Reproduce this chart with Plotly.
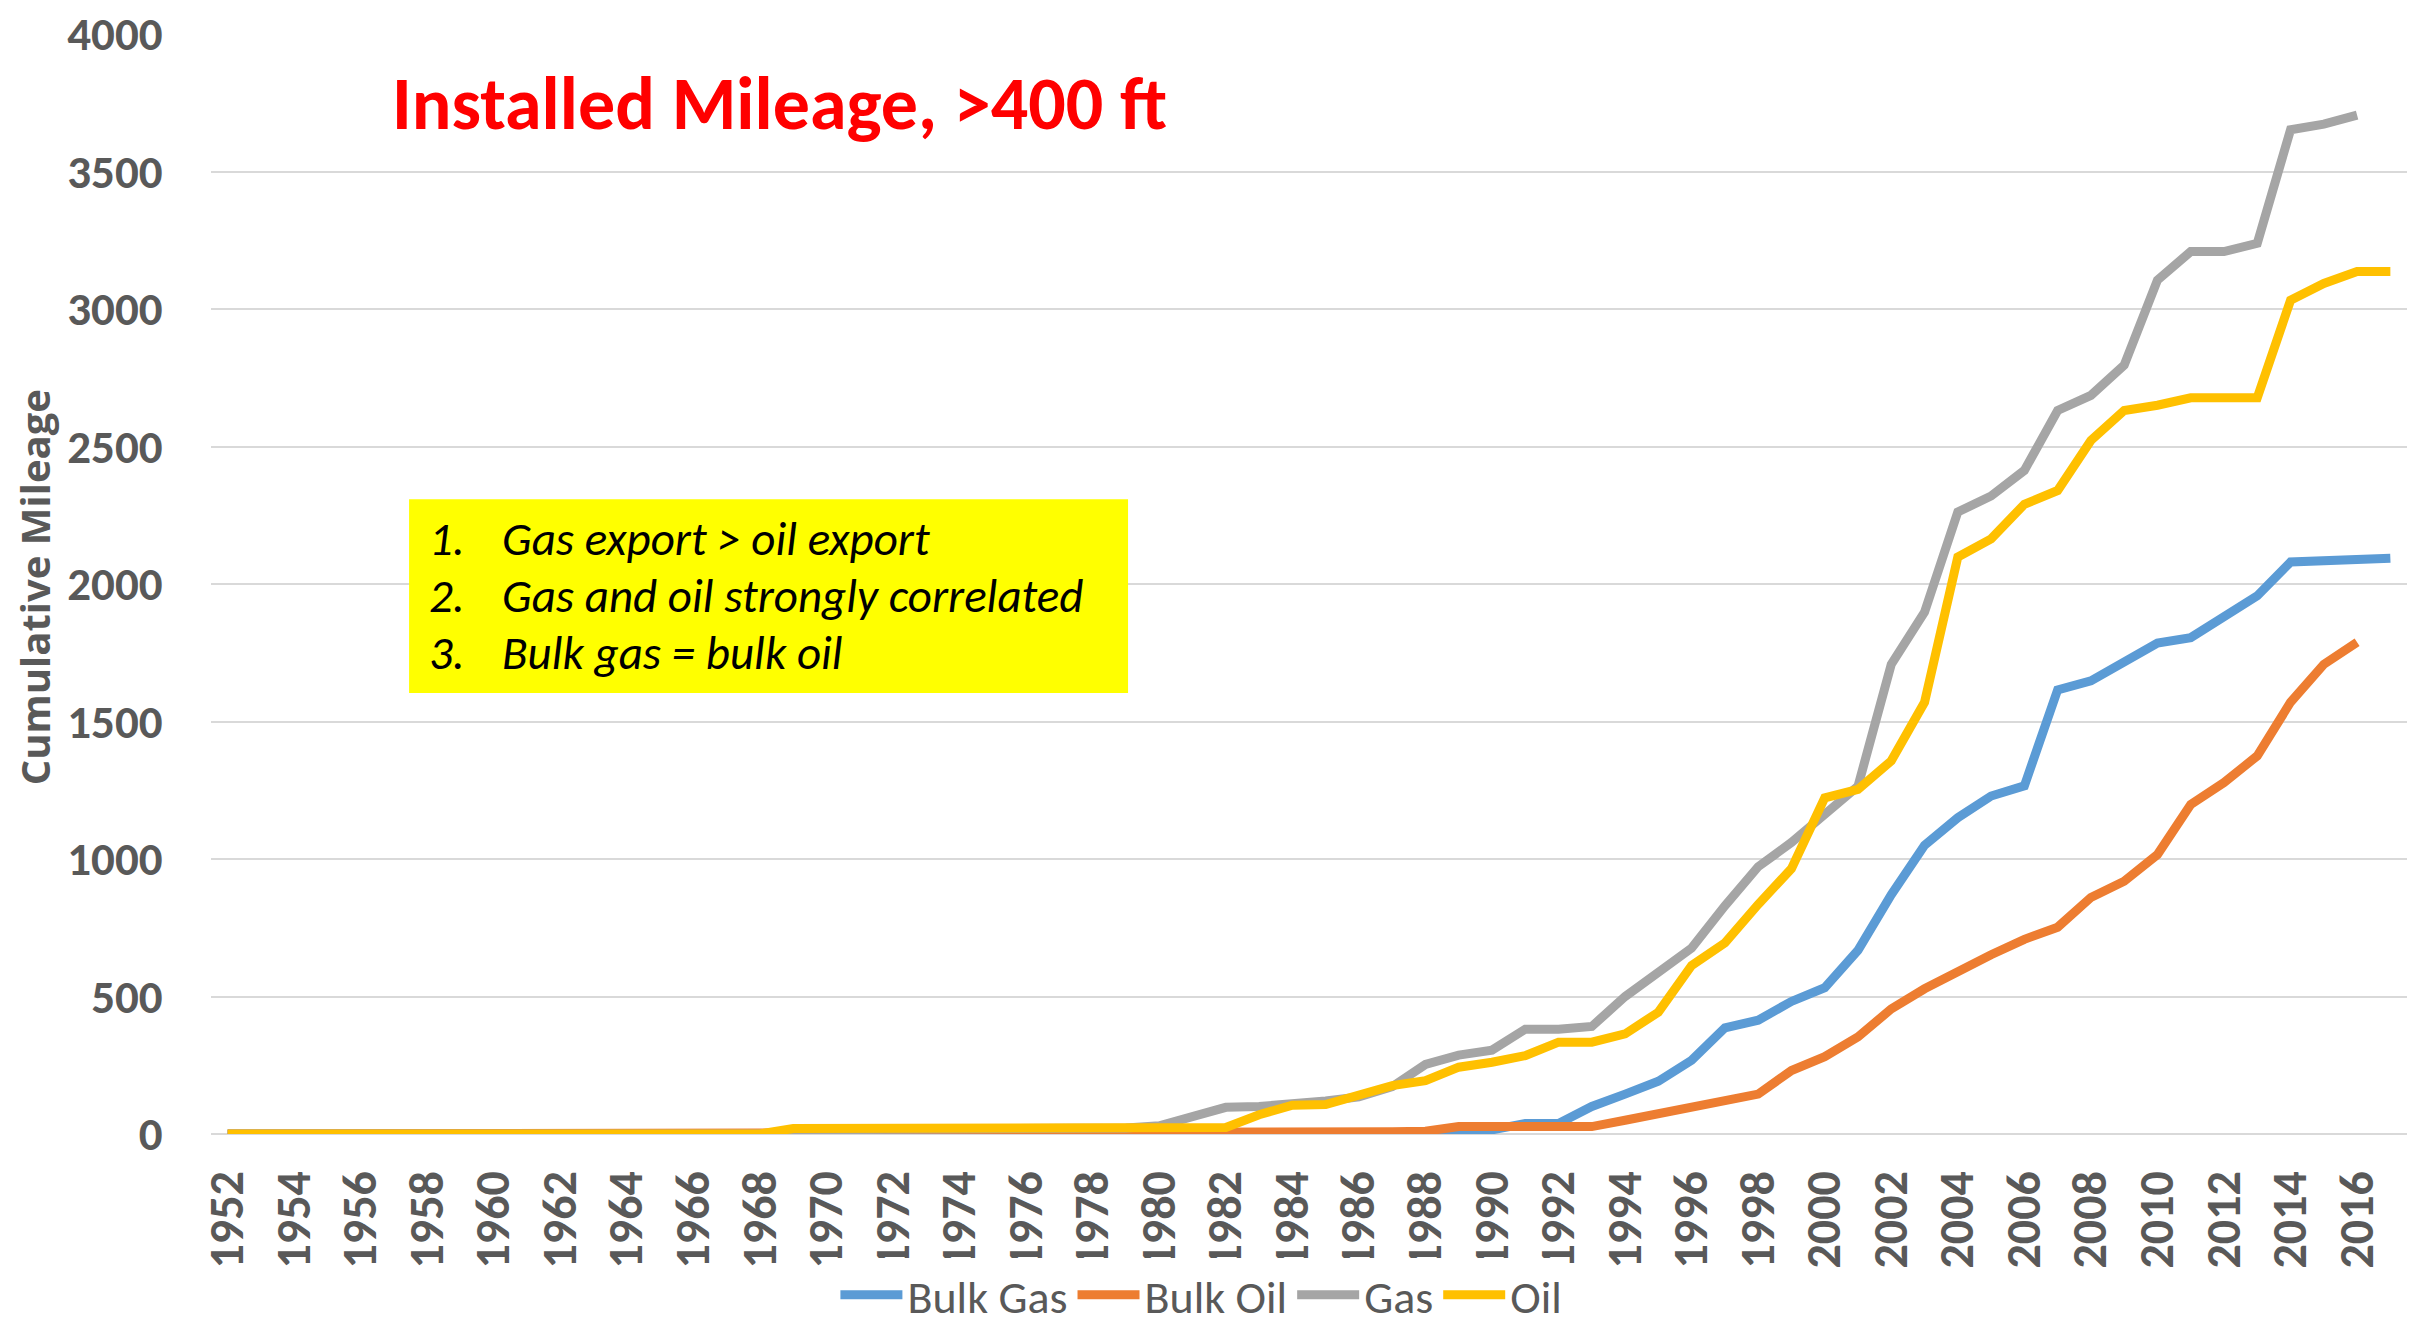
import plotly.graph_objects as go

years = list(range(1952, 2018))

bulk_gas = [
    0, 0, 0, 0, 0, 0, 0, 0,
    0, 0, 0, 0, 0, 0, 0, 0, 0, 0,
    0, 0, 0, 0, 0, 0, 0, 0, 0, 2,
    8, 8, 8, 8, 8, 8, 8, 8, 5, 5,
    15, 38, 38, 100, 145, 192, 268, 386, 414, 482,
    532, 668, 870, 1050, 1150, 1229, 1266, 1615, 1648, 1720,
    1785, 1805, 1884, 1957, 2080, 2085, 2094, 2094,
]

bulk_oil = [
    0, 0, 0, 0, 0, 0, 0, 0,
    0, 0, 0, 0, 0, 0, 0, 0, 0, 0,
    0, 0, 0, 0, 0, 0, 0, 2, 3, 5,
    8, 8, 8, 8, 8, 8, 8, 8, 10, 27,
    27, 27, 27, 27, 50, 72, 97, 116, 145, 231,
    281, 353, 455, 528, 592, 652, 708, 752, 860, 919,
    1016, 1198, 1278, 1375, 1570, 1708, 1788, None,
]

gas = [
    0, 0, 0, 0, 0, 0, 0, 0,
    0, 0, 0, 0, 0, 0, 0, 0, 0, 15,
    15, 15, 15, 15, 15, 15, 15, 15, 15, 22,
    30, 60, 97, 100, 108, 120, 135, 172, 253, 287,
    305, 381, 381, 391, 500, 589, 676, 830, 972, 1060,
    1158, 1265, 1708, 1898, 2262, 2320, 2413, 2631, 2686, 2796,
    3105, 3209, 3209, 3239, 3652, 3672, 3705, None,
]

oil = [
    0, 0, 0, 0, 0, 0, 0, 0,
    0, 0, 0, 0, 0, 0, 0, 0, 0, 20,
    20, 20, 20, 20, 20, 20, 20, 20, 20, 20,
    20, 20, 24, 70, 105, 107, 140, 176, 194, 243,
    261, 285, 334, 334, 364, 443, 613, 695, 835, 965,
    1222, 1253, 1357, 1570, 2098, 2164, 2290, 2340, 2522, 2631,
    2650, 2677, 2677, 2677, 3032, 3093, 3136, 3136,
]

series_names = ["Bulk Gas", "Bulk Oil", "Gas", "Oil"]
series_values = [bulk_gas, bulk_oil, gas, oil]
series_colors = ["#5B9BD5", "#ED7D31", "#A5A5A5", "#FFC000"]

x_tick_years = list(range(1952, 2018, 2))
y_ticks = [0, 500, 1000, 1500, 2000, 2500, 3000, 3500, 4000]

title_text = "Installed Mileage, >400 ft"
y_title = "Cumulative Mileage"
notes_numbers = ["1.", "2.", "3."]
notes_text = ["Gas export > oil export", "Gas and oil strongly correlated", "Bulk gas = bulk oil"]

NARROW = "Carlito, Calibri, Lato, sans-serif"
GREY = "#595959"

fig = go.Figure()
for name, vals, col in zip(series_names, series_values, series_colors):
    fig.add_trace(go.Scatter(
        x=years, y=vals, name=name, mode="lines",
        line=dict(color=col, width=9),
    ))

fig.update_layout(
    width=2432, height=1335,
    margin=dict(l=211, r=25, t=34, b=201, autoexpand=False),
    paper_bgcolor="white", plot_bgcolor="white",
    showlegend=True,
    legend=dict(
        orientation="h", xref="container", yref="container",
        x=0.494, xanchor="center", y=0.03, yanchor="middle",
        font=dict(family=NARROW, size=46, color=GREY),
        itemwidth=62,
    ),
)

fig.update_xaxes(
    range=[1951.5, 2017.5],
    tickmode="array", tickvals=x_tick_years, ticktext=[str(v) for v in x_tick_years],
    tickangle=-90,
    tickfont=dict(family=NARROW, size=48, color=GREY, weight="bold"),
    showgrid=False, zeroline=False, showline=False,
    ticks="outside", ticklen=17, tickcolor="rgba(0,0,0,0)",
)

fig.update_yaxes(
    range=[0, 4000],
    tickmode="array", tickvals=y_ticks,
    tickfont=dict(family=NARROW, size=47, color=GREY, weight="bold"),
    showgrid=True, gridcolor="#D9D9D9", gridwidth=2,
    zeroline=True, zerolinecolor="#D9D9D9", zerolinewidth=2,
    showline=False,
    ticks="outside", ticklen=38, tickcolor="rgba(0,0,0,0)",
)

# Title
fig.add_annotation(
    xref="paper", yref="paper", x=0.0815, y=0.936, xanchor="left", yanchor="middle",
    text="<b>" + title_text + "</b>", showarrow=False,
    font=dict(family=NARROW, size=74, color="#FF0000"),
)

# Y axis title
fig.add_annotation(
    xref="paper", yref="paper", x=-0.0806, y=0.497, xanchor="center", yanchor="middle",
    text="<b>" + y_title + "</b>", showarrow=False, textangle=-90,
    font=dict(family="Open Sans, sans-serif", size=40, color=GREY),
)

# Yellow notes box
fig.add_shape(
    type="rect", xref="paper", yref="paper",
    x0=0.0902, x1=0.4176, y0=0.401, y1=0.577,
    fillcolor="#FFFF00", line=dict(width=0), layer="above",
)
line_y = [0.541, 0.489, 0.437]
for num, txt, yy in zip(notes_numbers, notes_text, line_y):
    fig.add_annotation(
        xref="paper", yref="paper", x=0.0985, y=yy, xanchor="left", yanchor="middle",
        text="<i>" + num + "</i>", showarrow=False,
        font=dict(family=NARROW, size=47, color="black"),
    )
    fig.add_annotation(
        xref="paper", yref="paper", x=0.1315, y=yy, xanchor="left", yanchor="middle",
        text="<i>" + txt + "</i>", showarrow=False,
        font=dict(family=NARROW, size=47, color="black"),
    )

fig.write_html(
    "out.html",
    config={"displayModeBar": False},
    post_script="document.body.style.margin='0';",
)
